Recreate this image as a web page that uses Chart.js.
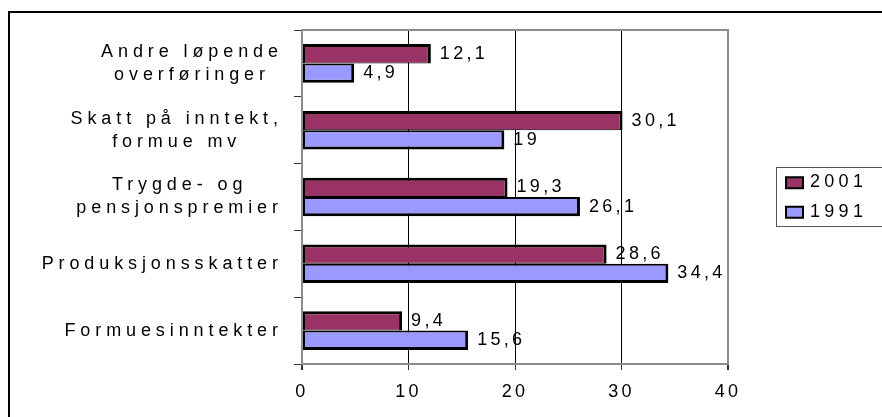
<!DOCTYPE html>
<html>
<head>
<meta charset="utf-8">
<script src="https://cdn.jsdelivr.net/npm/chart.js@4.4.0/dist/chart.umd.min.js"></script>
<style>
  html, body { margin: 0; padding: 0; background: #fff; }
</style>
</head>
<body>
<canvas id="c" width="882" height="417"></canvas>
<script>
// categories, top to bottom
const categories = [
  ['Andre løpende', 'overføringer'],
  ['Skatt på inntekt,', 'formue mv'],
  ['Trygde- og', 'pensjonspremier'],
  'Produksjonsskatter',
  'Formuesinntekter'
];
const seriesNames = ['2001', '1991'];
const values2001 = [12.1, 30.1, 19.3, 28.6, 9.4];
const values1991 = [4.9, 19, 26.1, 34.4, 15.6];
const xTicks = [0, 10, 20, 30, 40];

const FONT = '18px "Liberation Sans", Arial, sans-serif';
const NUM_SPACING = 3.3;
const fmt = v => String(v).replace('.', ',');

Chart.defaults.font.family = '"Liberation Sans", Arial, sans-serif';
Chart.defaults.font.size = 18;
Chart.defaults.color = '#000';

// frame round the whole picture + top/right edge of the plot area
const frame = {
  id: 'frame',
  beforeUpdate(chart) { chart.ctx.letterSpacing = NUM_SPACING + 'px'; },
  beforeDraw(chart) {
    const ctx = chart.ctx;
    ctx.letterSpacing = NUM_SPACING + 'px';
    ctx.save();
    ctx.strokeStyle = '#000';
    ctx.lineWidth = 2;
    ctx.strokeRect(9, 12, chart.width + 20, chart.height + 20);
    ctx.restore();
  },
  beforeDatasetsDraw(chart) {
    const {ctx, chartArea: a} = chart;
    ctx.save();
    ctx.strokeStyle = '#8c8c8c';
    ctx.lineWidth = 2;
    ctx.beginPath();
    ctx.moveTo(a.left, a.top);
    ctx.lineTo(a.right, a.top);
    ctx.lineTo(a.right, a.bottom);
    ctx.stroke();
    ctx.restore();
  }
};

// category names: block right aligned, lines centred in the block
const categoryLabels = {
  id: 'categoryLabels',
  afterDraw(chart) {
    const {ctx} = chart;
    const y = chart.scales.y;
    const sp = 4.9;
    const right = y.right - 24;
    ctx.save();
    ctx.font = FONT;
    ctx.fillStyle = '#000';
    ctx.textBaseline = 'middle';
    ctx.textAlign = 'left';
    ctx.letterSpacing = sp + 'px';
    chart.data.labels.forEach((lab, i) => {
      const lines = [].concat(lab);
      const widths = lines.map(t => ctx.measureText(t).width - sp);
      const block = Math.max(...widths);
      const cx = right - block / 2;
      const yc = y.getPixelForTick(i);
      lines.forEach((t, k) => {
        ctx.fillText(t, cx - widths[k] / 2, yc + (k - (lines.length - 1) / 2) * 23);
      });
    });
    ctx.restore();
  }
};

// value labels after each bar
const valueLabels = {
  id: 'valueLabels',
  afterDatasetsDraw(chart) {
    const {ctx} = chart;
    ctx.save();
    ctx.font = FONT;
    ctx.fillStyle = '#000';
    ctx.textBaseline = 'middle';
    ctx.textAlign = 'left';
    ctx.letterSpacing = NUM_SPACING + 'px';
    chart.data.datasets.forEach((ds, d) => {
      chart.getDatasetMeta(d).data.forEach((bar, i) => {
        ctx.fillText(fmt(ds.data[i]), bar.x + 9, bar.y);
      });
    });
    ctx.restore();
  }
};

// boxed legend right of the plot
const boxLegend = {
  id: 'boxLegend',
  afterDraw(chart) {
    const {ctx, chartArea: a} = chart;
    const left = a.right + 48;
    const mid = (a.top + a.bottom) / 2;
    const rowH = 29.5;
    const n = chart.data.datasets.length;
    ctx.save();
    ctx.strokeStyle = '#555';
    ctx.lineWidth = 1;
    ctx.strokeRect(left + 0.5, mid - 29.5, 200, 59);
    ctx.font = FONT;
    ctx.textBaseline = 'middle';
    ctx.textAlign = 'left';
    ctx.letterSpacing = '4.3px';
    chart.data.datasets.forEach((ds, d) => {
      const cy = mid + (d - (n - 1) / 2) * rowH;
      ctx.fillStyle = ds.backgroundColor;
      ctx.fillRect(left + 10, cy - 5, 17, 11);
      ctx.strokeStyle = '#000';
      ctx.lineWidth = 2;
      ctx.strokeRect(left + 10, cy - 5, 17, 11);
      ctx.fillStyle = '#000';
      ctx.fillText(ds.label, left + 34, cy);
    });
    ctx.restore();
  }
};

const edge = v => v === xTicks[0] || v === xTicks[xTicks.length - 1];

new Chart(document.getElementById('c'), {
  type: 'bar',
  data: {
    labels: categories,
    datasets: [
      {
        label: seriesNames[0],
        data: values2001,
        backgroundColor: '#993366',
        borderColor: '#000',
        borderWidth: {top: 3, left: 2, right: 3, bottom: 1},
        borderSkipped: false
      },
      {
        label: seriesNames[1],
        data: values1991,
        backgroundColor: '#9999ff',
        borderColor: '#000',
        borderWidth: {top: 2, left: 2, right: 3, bottom: 3},
        borderSkipped: false
      }
    ]
  },
  options: {
    indexAxis: 'y',
    responsive: false,
    devicePixelRatio: 1,
    animation: false,
    layout: { padding: { left: 0, top: 30, right: 154, bottom: 0 } },
    categoryPercentage: 0.578,
    barPercentage: 1,
    plugins: {
      legend: { display: false },
      tooltip: { enabled: false }
    },
    scales: {
      x: {
        min: xTicks[0],
        max: xTicks[xTicks.length - 1],
        ticks: { stepSize: xTicks[1] - xTicks[0], color: '#000', padding: 11 },
        grid: {
          color: c => edge(c.tick.value) ? '#8c8c8c' : '#000',
          lineWidth: c => edge(c.tick.value) ? 2 : 1,
          tickLength: 6,
          tickColor: '#333'
        },
        border: { color: '#8c8c8c', width: 2 },
        afterFit: s => { s.height = 53; }
      },
      y: {
        ticks: { display: false },
        grid: { drawOnChartArea: false, tickLength: 8, tickColor: '#333', offset: true },
        border: { color: '#8c8c8c', width: 2 },
        afterFit: s => { s.width = 302; }
      }
    }
  },
  plugins: [frame, valueLabels, categoryLabels, boxLegend]
});
</script>
</body>
</html>
